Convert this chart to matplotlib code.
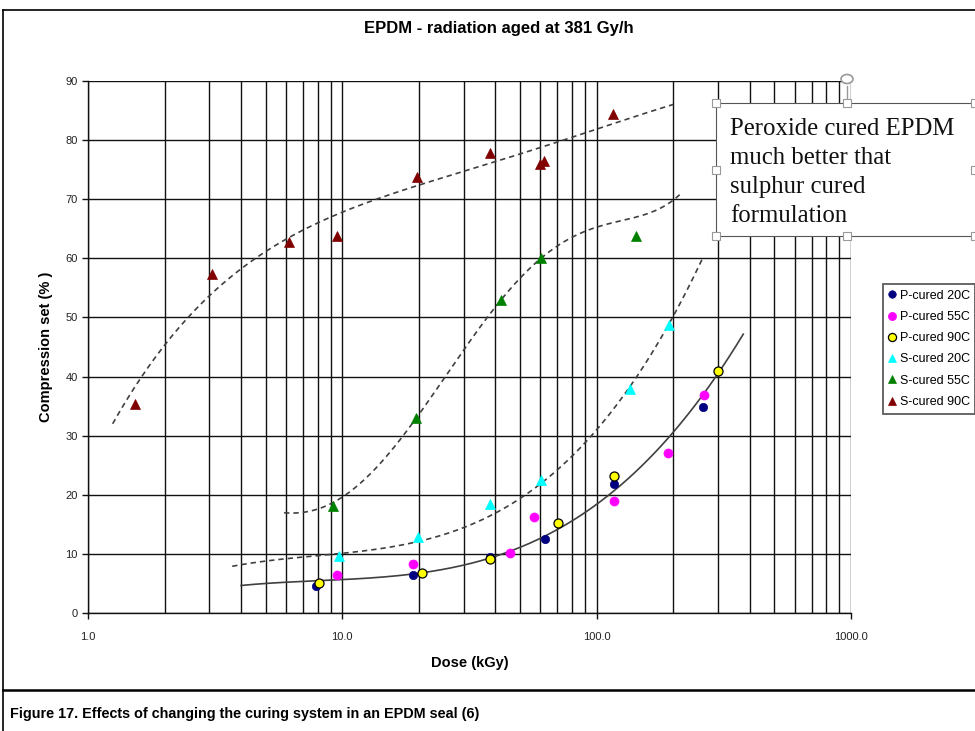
import numpy as np
import matplotlib
matplotlib.use("Agg")
import matplotlib.pyplot as plt
from matplotlib.ticker import LogLocator, FuncFormatter, NullFormatter
from matplotlib.patches import Rectangle, Circle
from matplotlib.lines import Line2D

# ---------------- data ----------------
p20_x = [7.9, 18.9, 38.0, 62.6, 116.6, 262.0]
p20_y = [4.6, 6.5, 9.5, 12.5, 21.8, 34.9]

p55_x = [9.5, 18.9, 45.7, 56.8, 117.5, 190.0, 264.0]
p55_y = [6.5, 8.3, 10.1, 16.2, 19.0, 27.0, 36.8]

p90_x = [8.1, 20.6, 38.1, 70.4, 116.6, 301.0]
p90_y = [5.0, 6.7, 9.1, 15.3, 23.1, 41.0]

s20_x = [9.7, 19.9, 37.9, 60.6, 135.6, 191.8]
s20_y = [9.7, 12.8, 18.4, 22.5, 37.9, 48.8]

s55_x = [9.2, 19.5, 42.2, 60.6, 143.0]
s55_y = [18.1, 33.0, 53.0, 60.0, 63.7]

s90_x = [1.53, 3.07, 6.18, 9.55, 19.6, 38.1, 60.0, 61.8, 115.5]
s90_y = [35.4, 57.4, 62.8, 63.8, 73.7, 77.9, 76.0, 76.4, 84.5]

# trend curves (samples read along the drawn trendlines)
t_s90_x = [1.25, 1.62, 2.01, 2.43, 2.97, 3.85, 4.47, 14.1, 19.6, 38.0, 76.0, 100.0, 200.0]
t_s90_y = [32.0, 40.0, 45.0, 50.0, 53.5, 57.5, 60.0, 69.9, 72.2, 76.6, 80.0, 81.7, 86.1]

t_s55_x = [5.9, 6.82, 9.18, 10.0, 12.5, 16.9, 19.3, 42.4, 50.0, 60.6, 100.0, 200.0, 217.0]
t_s55_y = [16.8, 17.3, 18.4, 19.6, 23.1, 29.6, 32.4, 53.0, 57.0, 60.0, 65.1, 70.2, 70.9]

t_s20_x = [3.69, 6.82, 9.7, 19.9, 29.0, 37.9, 60.6, 103.5, 135.5, 191.8, 217.0, 263.0]
t_s20_y = [8.3, 8.85, 9.8, 11.8, 14.6, 17.3, 22.2, 31.2, 37.7, 48.7, 53.0, 60.9]

t_p_x = [4.0, 6.82, 10.0, 20.2, 29.0, 38.0, 70.4, 97.6, 135.0, 207.0, 300.0, 377.0]
t_p_y = [4.9, 5.2, 5.3, 6.6, 8.0, 9.3, 15.3, 18.4, 22.3, 30.1, 41.0, 47.5]

labels = ["P-cured 20C", "P-cured 55C", "P-cured 90C",
          "S-cured 20C", "S-cured 55C", "S-cured 90C"]
y_ticks = [0, 10, 20, 30, 40, 50, 60, 70, 80, 90]

# ---------------- figure ----------------
W, H = 975, 731
fig = plt.figure(figsize=(W / 100, H / 100), dpi=100)
plt.rcParams['font.family'] = ['Liberation Sans', 'DejaVu Sans']


def px(x, y):
    return (x / W, 1 - y / H)


ax = fig.add_axes([88 / W, 1 - 613 / H, (851 - 88) / W, (613 - 81) / H])
ax.set_xscale('log')
ax.set_xlim(1, 1000)
ax.set_ylim(0, 90)
ax.set_yticks(y_ticks)
ax.xaxis.set_major_locator(LogLocator(base=10, numticks=10))
ax.xaxis.set_minor_locator(LogLocator(base=10, subs=range(2, 10), numticks=100))
ax.xaxis.set_major_formatter(FuncFormatter(lambda v, p: f"{v:.1f}"))
ax.xaxis.set_minor_formatter(NullFormatter())
ax.grid(which='both', axis='x', color='#111111', lw=1.0)
ax.grid(which='major', axis='y', color='#111111', lw=1.0)
ax.set_axisbelow(True)
for s in ['top', 'right']:
    ax.spines[s].set_visible(False)
for s in ['left', 'bottom']:
    ax.spines[s].set_color('#111111')
    ax.spines[s].set_linewidth(1.0)
ax.tick_params(axis='both', which='major', length=4, width=1.0, color='#111111',
               labelsize=8, labelcolor='#222222')
ax.tick_params(axis='x', which='minor', length=0)
ax.tick_params(axis='x', which='major', pad=10)

ax.set_xlabel("Dose (kGy)", fontsize=10.5, fontweight='bold', labelpad=10)
ax.set_ylabel("Compression set (% )", fontsize=10.5, fontweight='bold', labelpad=9)
fig.text(*px(499, 28), "EPDM - radiation aged at 381 Gy/h", ha='center', va='center',
         fontsize=12, fontweight='bold')


def trend(xs, ys, deg, **kw):
    lx = np.log10(xs)
    c = np.polyfit(lx, ys, deg)
    xx = np.linspace(lx.min(), lx.max(), 300)
    ax.plot(10 ** xx, np.polyval(c, xx), zorder=2, **kw)


dash = dict(color='#404040', lw=1.2, ls=(0, (3.2, 2.4)))
trend(np.array(t_s90_x), np.array(t_s90_y), 4, **dash)
trend(np.array(t_s55_x), np.array(t_s55_y), 5, **dash)
trend(np.array(t_s20_x), np.array(t_s20_y), 3, **dash)
trend(np.array(t_p_x), np.array(t_p_y), 3, color='#404040', lw=1.2, ls='-')

series = [
    (p20_x, p20_y, 'o', '#000080', '#000080', 6.0),
    (p55_x, p55_y, 'o', '#FF00FF', '#FF00FF', 6.5),
    (p90_x, p90_y, 'o', '#FFFF00', '#000000', 6.5),
    (s20_x, s20_y, '^', '#00FFFF', '#00FFFF', 6.5),
    (s55_x, s55_y, '^', '#008000', '#008000', 6.5),
    (s90_x, s90_y, '^', '#800000', '#800000', 6.5),
]
handles = []
for (xs, ys, m, fc, ec, ms), lab in zip(series, labels):
    h, = ax.plot(xs, ys, ls='none', marker=m, markerfacecolor=fc, markeredgecolor=ec,
                 markersize=ms, markeredgewidth=0.9 if ec == '#000000' else 0.5,
                 zorder=3, label=lab)
    handles.append(h)

leg = fig.legend(handles=handles, labels=labels, loc='upper left',
                 bbox_to_anchor=px(882.7, 284), fontsize=9, frameon=True,
                 fancybox=False, edgecolor='#333333', handlelength=0.6,
                 handletextpad=0.3, labelspacing=0.74, borderpad=0.45,
                 borderaxespad=0, markerscale=0.9)
leg.get_frame().set_linewidth(1.3)

# ---------------- text box ----------------
x0, y0 = px(716, 236)
x1, y1 = px(990, 103)
fig.patches.append(Rectangle((x0, y0), x1 - x0, y1 - y0, transform=fig.transFigure,
                             facecolor='white', edgecolor='#555555', lw=0.8, zorder=5))
fig.text(*px(730, 118), "Peroxide cured EPDM\nmuch better that\nsulphur cured\nformulation",
         ha='left', va='top', fontsize=17.8, linespacing=1.42,
         family=['Liberation Serif', 'DejaVu Serif'], color='#111111', zorder=6)
# selection handles
for hx, hy in [(716, 103), (847, 103), (716, 170), (716, 236), (847, 236),
               (975, 103), (975, 170), (975, 236)]:
    cx, cy = px(hx - 4, hy + 4)
    fig.patches.append(Rectangle((cx, cy), 8 / W, 8 / H, transform=fig.transFigure,
                                 facecolor='white', edgecolor='#999999', lw=0.8, zorder=7))
fig.lines.append(Line2D([847 / W, 847 / W], [1 - 86 / H, 1 - 99 / H], transform=fig.transFigure,
                        color='#999999', lw=1.0, zorder=7))
fig.patches.append(Circle(px(847, 79), 6 / W, transform=fig.transFigure,
                          facecolor='white', edgecolor='#999999', lw=1.2, zorder=7))

# ---------------- frame & caption ----------------
fig.lines.append(Line2D([3 / W, 3 / W], [0, 1 - 10 / H], transform=fig.transFigure,
                        color='black', lw=1.2))
fig.lines.append(Line2D([3 / W, 1], [1 - 10 / H, 1 - 10 / H], transform=fig.transFigure,
                        color='black', lw=1.2))
fig.lines.append(Line2D([3 / W, 1], [1 - 690 / H, 1 - 690 / H], transform=fig.transFigure,
                        color='black', lw=1.8))
fig.text(*px(10, 714), "Figure 17. Effects of changing the curing system in an EPDM seal (6)",
         ha='left', va='center', fontsize=10.4, fontweight='bold',
         family=['Liberation Sans Narrow', 'Liberation Sans'])

fig.savefig("out.png", dpi=100)
